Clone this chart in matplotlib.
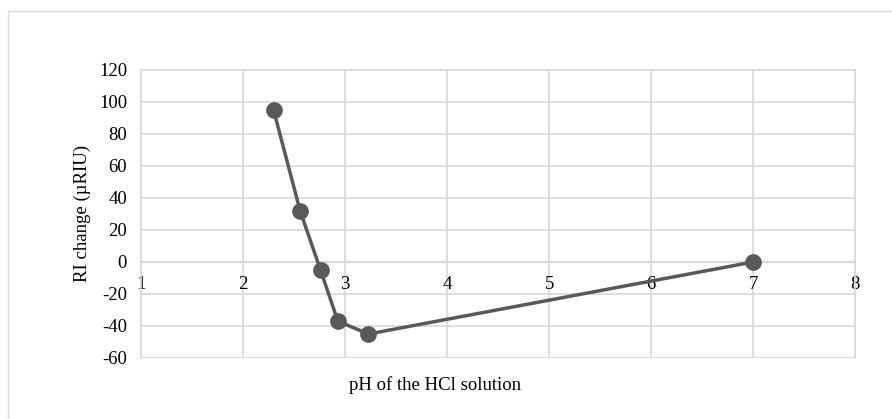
import matplotlib
matplotlib.use('Agg')
from matplotlib import pyplot as plt
from matplotlib.patches import Rectangle

# pH of the HCl solution and the measured RI change
ph_values = [2.3, 2.56, 2.76, 2.93, 3.23, 7.0]
ri_change = [95, 32, -5, -37, -45, 0]

x_ticks = [1, 2, 3, 4, 5, 6, 7, 8]
y_ticks = [-60, -40, -20, 0, 20, 40, 60, 80, 100, 120]

plt.rcParams['font.family'] = ['Liberation Serif', 'DejaVu Serif']
plt.rcParams['axes.unicode_minus'] = False

fig = plt.figure(figsize=(8.92, 4.19), dpi=100)
ax = fig.add_axes([0.158, 0.1456, 0.8007, 0.6874])

# light frame round the chart area (runs off the right and bottom edges)
fig.patches.append(Rectangle((8 / 892, -0.1), 1.2, 1.1 - 11 / 419, transform=fig.transFigure,
                             fill=False, edgecolor='#d9d9d9', linewidth=1.0))

ax.plot(ph_values, ri_change, color='#595959', linewidth=2.5, marker='o',
        markersize=11, markerfacecolor='#595959', markeredgecolor='#595959', zorder=3)

ax.set_xlim(1, 8)
ax.set_ylim(-60, 120)
ax.set_xticks(x_ticks)
ax.set_yticks(y_ticks)
ax.grid(True, color='#d9d9d9', linewidth=1.2)
ax.set_axisbelow(True)
for side in ['top', 'right', 'left', 'bottom']:
    ax.spines[side].set_color('#d9d9d9')
    ax.spines[side].set_linewidth(1.2)

# x axis crosses at zero, labels sit just under it
ax.spines['bottom'].set_position(('data', 0))
ax.spines['bottom'].set_linewidth(1.6)
ax.tick_params(axis='both', length=0, labelsize=13.5, colors='black')
ax.tick_params(axis='x', pad=10)
ax.tick_params(axis='y', pad=10)

# bottom edge of the plot area
ax.axhline(-60, color='#d9d9d9', linewidth=1.2, zorder=1)

fig.text(82 / 892, 1 - 213 / 419, 'RI change (\u00b5RIU)', rotation=90,
         ha='center', va='center', fontsize=13.5)
fig.text(435 / 892, 1 - 385 / 419, 'pH of the HCl solution',
         ha='center', va='center', fontsize=13.5)

fig.savefig('out.png', dpi=100)
